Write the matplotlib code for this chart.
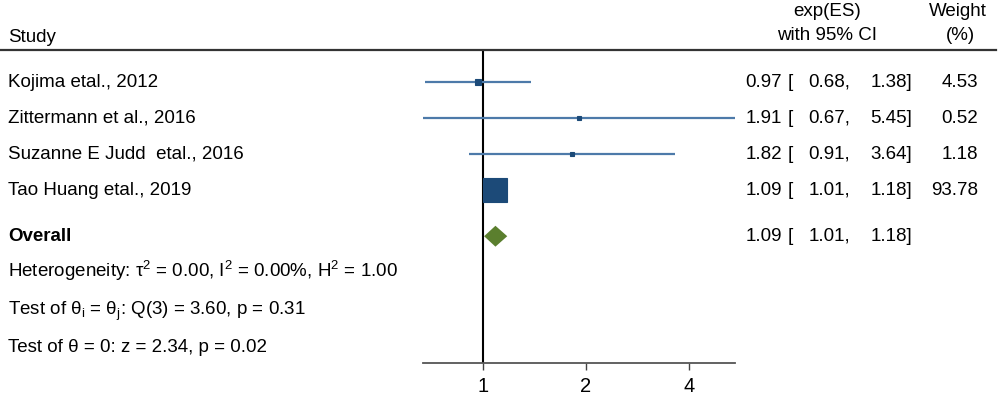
import matplotlib.pyplot as plt
from matplotlib.patches import Polygon
import matplotlib.transforms as mtransforms
import numpy as np

plt.rcParams['font.family'] = ['Liberation Sans', 'DejaVu Sans']

# study data
studies = ["Kojima etal., 2012", "Zittermann et al., 2016",
           "Suzanne E Judd  etal., 2016", "Tao Huang etal., 2019"]
es = [0.97, 1.91, 1.82, 1.09]
lo = [0.68, 0.67, 0.91, 1.01]
hi = [1.38, 5.45, 3.64, 1.18]
weight = [4.53, 0.52, 1.18, 93.78]

# overall estimate
overall_es, overall_lo, overall_hi = 1.09, 1.01, 1.18

hetero_text = (r"Heterogeneity: τ$^\mathregular{2}$ = 0.00, I$^\mathregular{2}$ = 0.00%, "
               r"H$^\mathregular{2}$ = 1.00")
q_text = r"Test of θ$_\mathregular{i}$ = θ$_\mathregular{j}$: Q(3) = 3.60, p = 0.31"
z_text = "Test of θ = 0: z = 2.34, p = 0.02"

xticks = [1, 2, 4]

line_col = "#4d7aa9"
box_col = "#1c4a78"
diam_col = "#5b7f2e"
fs = 13.5

fig = plt.figure(figsize=(10, 3.97), dpi=100)
ax = fig.add_axes([0.423, 1 - 363 / 397, 0.312, (363 - 50) / 397])

rows = np.arange(1, len(studies) + 1)
y_overall = 5.28
y_het, y_q, y_z = 6.25, 7.3, 8.33

# CI lines and weighted squares
for y, e, l, h, w in zip(rows, es, lo, hi, weight):
    ax.plot([l, h], [y, y], color=line_col, lw=1.6, solid_capstyle='butt')
    size = max(17.0 * np.sqrt(w / max(weight)), 2.4)
    ax.plot(e, y, marker='s', ms=size, color=box_col, mec=box_col, mew=0.8)

# overall diamond
dh = 0.29
diamond = Polygon([[overall_lo, y_overall], [overall_es, y_overall - dh],
                   [overall_hi, y_overall], [overall_es, y_overall + dh]],
                  closed=True, color=diam_col, lw=0)
ax.add_patch(diamond)

ax.axvline(1, color='black', lw=1.5, zorder=0)

ax.set_xscale('log')
ax.set_xlim(min(lo), max(hi))
ax.set_ylim(8.8, 0.11)
ax.set_xticks(xticks)
ax.set_xticklabels([str(t) for t in xticks], fontsize=14.5)
ax.minorticks_off()
ax.tick_params(axis='x', length=5, width=1, color='#444444', pad=5)
ax.set_yticks([])
for s in ['top', 'left', 'right']:
    ax.spines[s].set_visible(False)
ax.spines['bottom'].set_color('#555555')
ax.spines['bottom'].set_linewidth(1.3)
ax.patch.set_alpha(0)

# text columns: x in figure fraction, y in data
tr = mtransforms.blended_transform_factory(fig.transFigure, ax.transData)

def px(x):
    return x / 1000

def row_text(x, y, s, ha='left', **kw):
    ax.text(px(x), y, s, transform=tr, fontsize=fs, va='center', ha=ha, **kw)

for y, name, e, l, h, w in zip(rows, studies, es, lo, hi, weight):
    row_text(8, y, name)
    row_text(782, y, f"{e:.2f}", 'right')
    row_text(788, y, "[")
    row_text(850, y, f"{l:.2f},", 'right')
    row_text(912, y, f"{h:.2f}]", 'right')
    row_text(978, y, f"{w:.2f}", 'right')

row_text(8, y_overall, "Overall", fontweight='bold')
row_text(782, y_overall, f"{overall_es:.2f}", 'right')
row_text(788, y_overall, "[")
row_text(850, y_overall, f"{overall_lo:.2f},", 'right')
row_text(912, y_overall, f"{overall_hi:.2f}]", 'right')

ax.text(px(8), y_het + 0.17, hetero_text, transform=tr, fontsize=fs, va='baseline', ha='left')
ax.text(px(8), y_q + 0.17, q_text, transform=tr, fontsize=fs, va='baseline', ha='left')
ax.text(px(8), y_z + 0.17, z_text, transform=tr, fontsize=fs, va='baseline', ha='left')

# header
def fy(y):
    return 1 - y / 397

fig.text(px(8), fy(37), "Study", fontsize=fs, va='center', ha='left')
fig.text(px(827), fy(11), "exp(ES)", fontsize=fs, va='center', ha='center')
fig.text(px(827), fy(36), "with 95% CI", fontsize=fs, va='center', ha='center')
fig.text(px(958), fy(11), "Weight", fontsize=fs, va='center', ha='center')
fig.text(px(960), fy(36), "(%)", fontsize=fs, va='center', ha='center')
fig.add_artist(plt.Line2D([0, px(996)], [fy(50), fy(50)], color='#333333', lw=1.6))

fig.savefig("out.png", dpi=100)
